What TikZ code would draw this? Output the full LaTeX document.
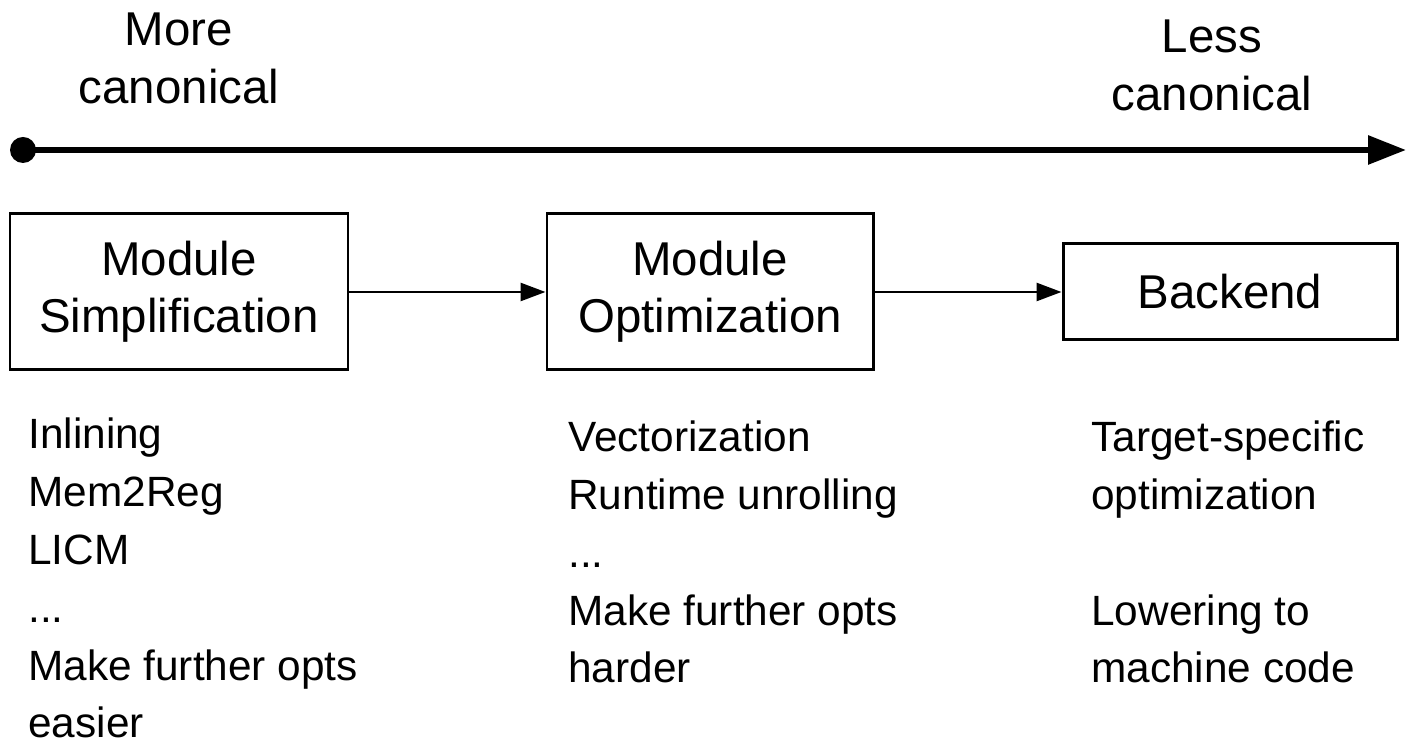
\documentclass[tikz,border=0pt]{standalone}
\usepackage{fontspec}
\setmainfont{Liberation Sans}
\usetikzlibrary{arrows.meta,positioning}

\tikzset{
  stagebox/.style={draw,line width=1.7pt,align=center,inner sep=0pt,
                   font=\fontsize{27}{32.4}\selectfont},
  axislabel/.style={align=center,inner sep=0pt,
                    font=\fontsize{27}{33}\selectfont},
  passlist/.style={align=left,inner sep=0pt,anchor=base west,
                   font=\fontsize{24.1}{33}\selectfont},
  flow/.style={-{Triangle[length=0.5cm,width=0.36cm]},line width=1.5pt}
}

\begin{document}
\begin{tikzpicture}
 \useasboundingbox (0,0) rectangle (28.16,14.9);
 % canonicality axis
 \node[circle,fill,inner sep=0pt,minimum size=0.52cm] (start) at (0.46,11.9) {};
 \coordinate (axisend) at (28.12,11.9);
 \draw[-{Triangle[length=0.76cm,width=0.56cm]},line width=3.4pt] (start.center) -- (axisend);
 \node[axislabel] (more) at (3.58,13.74) {More\\canonical};
 \node[axislabel] (less) at (24.24,13.6) {Less\\canonical};
 % pipeline stages
 \node[stagebox,minimum width=6.76cm,minimum height=3.12cm] (simp) at (3.58,9.06) {Module\\Simplification};
 \node[stagebox,minimum width=6.52cm,minimum height=3.12cm] (opt) at (14.2,9.06) {Module\\Optimization};
 \node[stagebox,minimum width=6.68cm,minimum height=1.92cm] (backend) at (24.6,9.06) {Backend};
 \draw[flow] (simp) -- (opt);
 \draw[flow] (opt) -- (backend);
 % passes under each stage (anchored at the last line)
 \node[passlist] (simppasses) at (0.56,0.14) {Inlining\\Mem2Reg\\LICM\\...\\Make further opts\\easier};
 \node[passlist] (optpasses) at (11.36,1.24) {Vectorization\\Runtime unrolling\\...\\Make further opts\\harder};
 \node[passlist] (backpasses) at (21.82,1.24) {Target-specific\\optimization\\[33pt]Lowering to\\machine code};
\end{tikzpicture}
\end{document}
